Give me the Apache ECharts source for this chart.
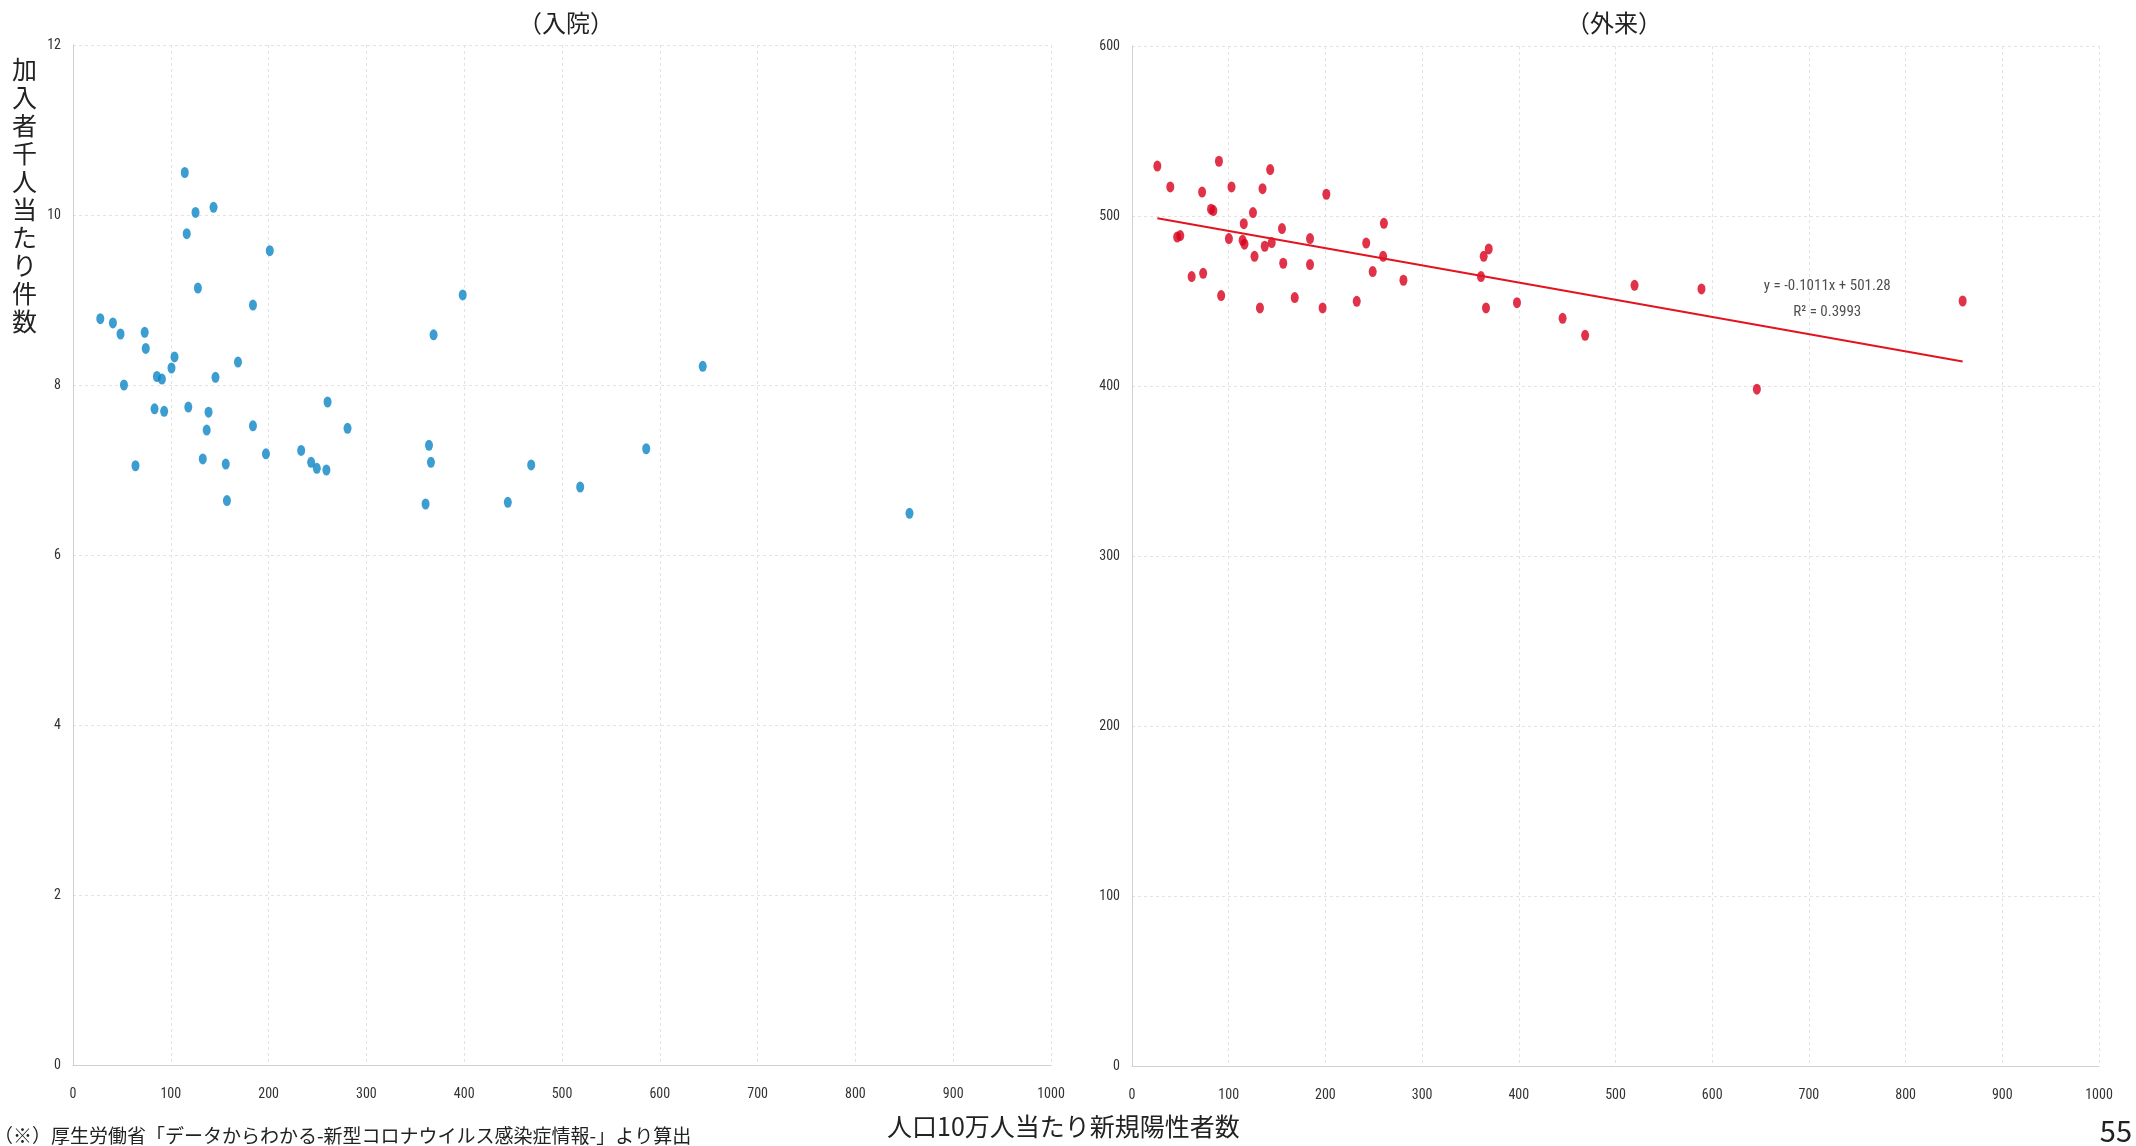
<!DOCTYPE html>
<html>
<head>
<meta charset="utf-8">
<script src="https://cdn.jsdelivr.net/npm/echarts@6/dist/echarts.min.js"></script>
<style>
html,body{margin:0;padding:0;background:#fff;}
#chart{width:2136px;height:1146px;}
</style>
</head>
<body>
<div id="chart"></div>
<script>
// ---- Data ----
const inpatientX = [114.3,125.3,143.7,116.3,201.2,127.7,184,398.5,27.9,40.8,48.6,73.3,368.7,74.4,103.8,100.7,168.7,85.8,90.9,145.7,52.1,643.9,83.4,93.2,117.9,138.6,260.3,136.7,184,280.7,364,233.3,197.3,132.7,63.9,156.2,243.5,249.3,259.1,366,468.5,518.6,157.4,360.5,444.6,586.1,855.3];
const inpatientY = [10.50,10.03,10.09,9.78,9.58,9.14,8.94,9.06,8.78,8.73,8.60,8.62,8.59,8.43,8.33,8.20,8.27,8.10,8.07,8.09,8.00,8.22,7.72,7.69,7.74,7.68,7.80,7.47,7.52,7.49,7.29,7.23,7.19,7.13,7.05,7.07,7.09,7.02,7.00,7.09,7.06,6.80,6.64,6.60,6.62,7.25,6.49];

const outpatientX = [26.2,39.6,89.9,72.5,102.9,142.9,135,201,84.1,81.7,125.1,115.6,260.5,46.7,49.9,100.2,114.4,116.3,155.1,144.5,137.3,126.7,184.1,242.2,259.7,156.4,184.1,248.9,280.7,61.7,73.6,363.7,368.9,360.9,92.2,168.3,232.4,132.3,197.1,366.1,398.1,445.3,468.6,519.7,588.9,646.2,859];
const outpatientY = [529.4,517.1,532.2,514.1,517.1,527.3,516.1,512.8,503.2,504.0,502,495.5,495.7,487.6,488.5,486.7,485.7,483.4,492.6,484.4,482.2,476.3,486.7,484.1,476.3,472.2,471.4,467.3,462.2,464.4,466.3,476.3,480.6,464.4,453.2,452,449.8,445.9,445.9,445.9,449,439.8,429.8,459.2,457.1,398.1,450];

// trendline (from the chart's equation)
const trendSlope = -0.1011;
const trendIntercept = 501.28;
const trendText = ['y = -0.1011x + 501.28', 'R\u00B2 = 0.3993'];
const trendTextPos = [719, 451];

const titles = ['（入院）', '（外来）'];
const yAxisName = '加入者千人当たり件数';
const xAxisName = '人口10万人当たり新規陽性者数';
const footnote = '（※）厚生労働省「データからわかる-新型コロナウイルス感染症情報-」より算出';
const pageNo = '55';

const xTicks = {min:0, max:1000, interval:100};
const yTicksL = {min:0, max:12, interval:2};
const yTicksR = {min:0, max:600, interval:100};

// ---- Build ----
const pts = (xs, ys) => xs.map((x, i) => [x, ys[i]]);
const xmin = Math.min(...outpatientX), xmax = Math.max(...outpatientX);
const trendData = [[xmin, trendIntercept + trendSlope * xmin], [xmax, trendIntercept + trendSlope * xmax]];

const narrow = '"Liberation Sans Narrow","Roboto Condensed","Liberation Sans",sans-serif';
const tickFont = {fontFamily: narrow, fontSize: 14, color: '#333', formatter: v => String(v)};
const gridLine = {show: true, lineStyle: {color: '#e3e3e3', type: [3, 3], width: 1}};
const axisLine = {show: true, lineStyle: {color: '#d0d0d0', width: 1}};
const cjk = '"Noto Sans CJK JP","Noto Sans",sans-serif';

function xAx(gi) {
  return {type: 'value', gridIndex: gi, min: xTicks.min, max: xTicks.max, interval: xTicks.interval,
    axisLine: axisLine, axisTick: {show: false}, splitLine: gridLine,
    axisLabel: Object.assign({margin: 22}, tickFont)};
}
function yAx(gi, t) {
  return {type: 'value', gridIndex: gi, min: t.min, max: t.max, interval: t.interval,
    axisLine: axisLine, axisTick: {show: false}, splitLine: gridLine,
    axisLabel: Object.assign({margin: 12}, tickFont)};
}

const chart = echarts.init(document.getElementById('chart'));
chart.setOption({
  animation: false,
  backgroundColor: '#ffffff',
  title: [
    {text: titles[0], left: 561, top: 6, textAlign: 'center', textStyle: {fontFamily: cjk, fontSize: 24, fontWeight: 'normal', color: '#222'}},
    {text: titles[1], left: 1609, top: 6, textAlign: 'center', textStyle: {fontFamily: cjk, fontSize: 24, fontWeight: 'normal', color: '#222'}}
  ],
  grid: [
    {left: 73, top: 45, width: 978, height: 1020},
    {left: 1132, top: 46, width: 967, height: 1020}
  ],
  xAxis: [xAx(0), xAx(1)],
  yAxis: [yAx(0, yTicksL), yAx(1, yTicksR)],
  series: [
    {type: 'scatter', xAxisIndex: 0, yAxisIndex: 0, data: pts(inpatientX, inpatientY),
      symbol: 'circle', symbolSize: [8, 11], itemStyle: {color: '#0b84c6'}},
    {type: 'scatter', xAxisIndex: 1, yAxisIndex: 1, data: pts(outpatientX, outpatientY),
      symbol: 'circle', symbolSize: [8, 11], itemStyle: {color: '#d8001c'}, z: 3},
    {type: 'line', xAxisIndex: 1, yAxisIndex: 1, data: trendData, showSymbol: false, symbol: 'none',
      lineStyle: {color: '#e3141e', width: 2}, z: 4},
    {type: 'scatter', xAxisIndex: 1, yAxisIndex: 1, data: [trendTextPos], symbolSize: 1,
      itemStyle: {color: 'rgba(0,0,0,0)'}, silent: true,
      label: {show: true, position: 'inside', formatter: trendText.join('\n'), lineHeight: 26,
        fontFamily: narrow, fontSize: 15, color: '#222', align: 'center'}}
  ],
  graphic: [
    {type: 'text', left: 12, top: 55, style: {text: yAxisName.split('').join('\n'), fontFamily: cjk, fontSize: 25, lineHeight: 28, fill: '#222', align: 'center'}},
    {type: 'text', left: 887, top: 1114, style: {text: xAxisName, fontFamily: cjk, fontSize: 25, fill: '#222'}},
    {type: 'text', left: -6, top: 1126, style: {text: footnote, fontFamily: cjk, fontSize: 19, fill: '#222'}},
    {type: 'text', right: 4, top: 1116, style: {text: pageNo, fontFamily: cjk, fontSize: 29, fill: '#222'}}
  ]
});
</script>
</body>
</html>
